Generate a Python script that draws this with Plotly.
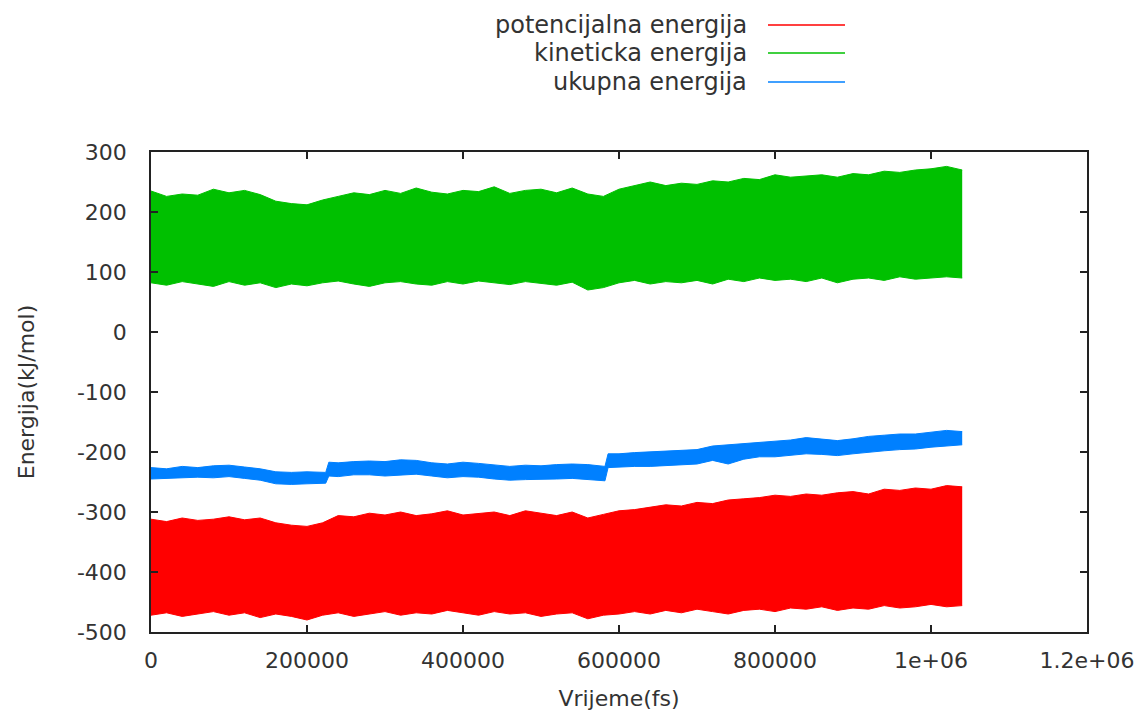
import plotly.graph_objects as go

# ---- data (envelopes) ----
x_fs = [i * 20000 for i in range(53)]  # 0 .. 1,040,000 fs

kin_hi = [235, 226, 230, 228, 238, 232, 236, 229, 218, 214, 212, 220, 226, 232, 229, 236, 231, 240,
          233, 230, 236, 234, 242, 231, 236, 238, 232, 240, 230, 226, 238, 244, 250, 244, 248, 246,
          252, 250, 256, 254, 262, 258, 260, 262, 258, 264, 262, 268, 266, 270, 272, 276, 270]
kin_lo = [82, 78, 84, 80, 76, 84, 78, 82, 74, 80, 77, 82, 85, 80, 76, 82, 84, 80, 78, 84, 80, 85,
          82, 79, 84, 81, 78, 83, 70, 74, 82, 86, 80, 84, 82, 86, 80, 88, 84, 90, 86, 88, 84, 90,
          82, 88, 90, 86, 92, 88, 90, 92, 90]

pot_hi = [-312, -316, -310, -314, -312, -308, -313, -310, -318, -322, -324, -318, -306, -308, -302,
          -305, -300, -306, -303, -298, -305, -302, -300, -306, -298, -302, -306, -300, -310, -304,
          -298, -296, -292, -288, -290, -284, -286, -280, -278, -276, -272, -274, -270, -272, -268,
          -266, -270, -262, -264, -260, -262, -256, -258]
pot_lo = [-472, -468, -474, -470, -466, -472, -468, -476, -470, -474, -480, -472, -468, -474, -470,
          -466, -472, -468, -470, -464, -468, -472, -466, -470, -468, -474, -470, -468, -478, -472,
          -470, -466, -470, -464, -468, -462, -466, -470, -464, -462, -466, -460, -462, -458, -464,
          -460, -462, -456, -460, -458, -454, -458, -456]

tot_x = [0, 20000, 40000, 60000, 80000, 100000, 120000, 140000, 160000, 180000, 200000, 224000,
         228000, 240000, 260000, 280000, 300000, 320000, 340000, 360000, 380000, 400000, 420000,
         440000, 460000, 480000, 500000, 520000, 540000, 560000, 582000, 586000, 600000, 620000,
         640000, 660000, 680000, 700000, 720000, 740000, 760000, 780000, 800000, 820000, 840000,
         860000, 880000, 900000, 920000, 940000, 960000, 980000, 1000000, 1020000, 1040000]
tot_hi = [-226, -228, -224, -226, -223, -222, -225, -228, -233, -234, -233, -234, -217, -218, -216,
          -215, -216, -213, -214, -218, -220, -217, -219, -222, -224, -222, -223, -221, -220, -221,
          -224, -203, -203, -201, -200, -199, -198, -196, -190, -188, -186, -184, -182, -180, -176,
          -178, -181, -178, -174, -172, -170, -170, -167, -164, -166]
tot_lo = [-245, -244, -243, -242, -243, -241, -244, -247, -253, -254, -253, -252, -240, -241, -238,
          -238, -240, -238, -237, -240, -243, -241, -242, -245, -247, -246, -246, -245, -244, -246,
          -248, -226, -225, -224, -224, -223, -222, -220, -214, -220, -212, -208, -208, -206, -203,
          -204, -206, -203, -200, -198, -196, -195, -192, -190, -188]

series = [
    ("potencijalna energija", x_fs, pot_lo, pot_hi, "#ff0000"),
    ("kineticka energija", x_fs, kin_lo, kin_hi, "#00c000"),
    ("ukupna energija", tot_x, tot_lo, tot_hi, "#0080ff"),
]

x_ticks = [0, 200000, 400000, 600000, 800000, 1000000, 1200000]
x_tick_text = ["0", "200000", "400000", "600000", "800000", "1e+06", "1.2e+06"]
y_ticks = [-500, -400, -300, -200, -100, 0, 100, 200, 300]
y_tick_text = ["-500", "-400", "-300", "-200", "-100", "0", "100", "200", "300"]

FONT = "DejaVu Sans"
TXT = "#333333"
FS = 22

fig = go.Figure()
for name, xs, lo, hi, col in series:
    fig.add_trace(go.Scatter(x=xs, y=lo, mode="lines", line=dict(color=col, width=1),
                             showlegend=False, hoverinfo="skip"))
    fig.add_trace(go.Scatter(x=xs, y=hi, mode="lines", line=dict(color=col, width=1),
                             fill="tonexty", fillcolor=col, name=name, showlegend=False))

FW, FH = 1140, 713
L, R, T, B = 151, 1087, 152, 632
W, H = R - L, B - T

# gnuplot-style legend: text right-aligned, sample line to the right
legend_rows = [25, 53, 82]
for (name, xs, lo, hi, col), ypx in zip(series, legend_rows):
    yp = (B - ypx) / H
    fig.add_annotation(x=(749 - L) / W, y=yp, xref="paper", yref="paper", text=name,
                       showarrow=False, xanchor="right", yanchor="middle",
                       font=dict(family=FONT, size=24, color=TXT))
    fig.add_shape(type="line", xref="paper", yref="paper",
                  x0=(768 - L) / W, x1=(845 - L) / W, y0=yp, y1=yp,
                  line=dict(color=col, width=1.5))

axis_common = dict(showline=True, linecolor="#222222", linewidth=1.5, mirror="ticks",
                   ticks="inside", ticklen=7, tickcolor="#222222", tickwidth=1.5,
                   showgrid=False, zeroline=False, automargin=False,
                   tickfont=dict(family=FONT, size=FS, color=TXT))

fig.update_layout(
    width=FW, height=FH,
    margin=dict(l=L, r=FW - R, t=T, b=FH - B),
    paper_bgcolor="white", plot_bgcolor="white",
    showlegend=False,
    xaxis=dict(range=[0, 1200000], tickvals=x_ticks, ticktext=x_tick_text, ticklabelstandoff=8,
               title=dict(text="Vrijeme(fs)", font=dict(family=FONT, size=FS, color=TXT), standoff=18),
               **axis_common),
    yaxis=dict(range=[-500, 300], tickvals=y_ticks, ticktext=y_tick_text, ticklabelstandoff=18,
               title=dict(text="Energija(kJ/mol)", font=dict(family=FONT, size=FS, color=TXT), standoff=36),
               **axis_common),
)

fig.write_html("out.html", config={"displayModeBar": False},
               post_script="document.body.style.margin='0';document.body.style.overflow='hidden';")
